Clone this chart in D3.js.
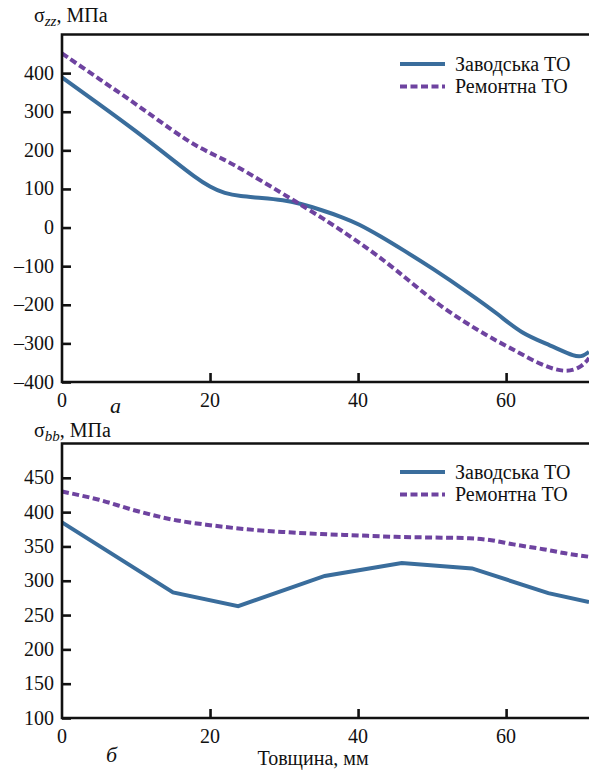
<!DOCTYPE html>
<meta charset="utf-8">
<style>
body {
  margin: 0;
  background: white;
}
svg text {
  font-family: "Liberation Serif", "Times New Roman", Times, "DejaVu Serif", serif;
  fill: #111;
}
</style>
<body>
<script src="https://cdn.jsdelivr.net/npm/d3@7"></script>
<script>

var width = 589,
    height = 772;

var seriesNames = ["Заводська ТО", "Ремонтна ТО"];
var colors = ["#3a6d9c", "#6e43a0"];

// top panel, sigma_zz (mm, MPa)
var zzFactory = [
  [0, 389], [5, 320], [10, 250], [15, 175], [18, 130], [20, 105], [22, 88],
  [24, 81], [27, 77], [30, 71], [32, 63], [35, 46], [38, 26], [40, 10],
  [43, -22], [46, -57], [50, -105], [55, -170], [59, -225], [62, -274],
  [66, -305], [69.4, -336], [70.4, -333], [71.2, -322]
];
var zzRepair = [
  [0, 451], [5, 385], [10, 320], [15, 250], [18.6, 205], [22, 176],
  [25, 143], [30, 86], [32, 62], [35, 27], [40, -36], [45, -106],
  [51, -205], [57.8, -285], [61.4, -320], [64.6, -355], [68.2, -378],
  [70.4, -358], [71.2, -338]
];

// bottom panel, sigma_bb (mm, MPa)
var bbFactory = [
  [0, 385], [15, 283], [23.8, 263], [35.5, 307], [45.9, 326],
  [55.4, 318], [65.7, 282], [71.2, 269]
];
var bbRepair = [
  [0, 430], [5, 418], [10, 402], [15, 389], [20, 381], [25, 375],
  [30, 371], [35, 368], [40, 366], [45, 364], [50, 363], [55, 362],
  [58, 359], [61, 353], [65, 346], [68, 340], [71.2, 335]
];

var xTicks = [0, 20, 40, 60];
var zzTicks = [-400, -300, -200, -100, 0, 100, 200, 300, 400];
var bbTicks = [100, 150, 200, 250, 300, 350, 400, 450];

var svg = d3.select("body").append("svg")
    .attr("width", width)
    .attr("height", height)
    .attr("font-family", "Liberation Serif, Times New Roman, serif");

var x = d3.scaleLinear().domain([0, 71.2]).range([62, 589]);

function panel(opts) {
  var y = d3.scaleLinear().domain(opts.domain).range(opts.range);
  var g = svg.append("g");

  var line = d3.line()
    .x(function(d) { return x(d[0]); })
    .y(function(d) { return y(d[1]); });

  // curves
  opts.series.forEach(function(s, i) {
    g.append("path")
      .datum(s)
      .attr("fill", "none")
      .attr("stroke", colors[i])
      .attr("stroke-width", 4)
      .attr("stroke-dasharray", i === 1 ? "7,3.5" : null)
      .attr("d", line.curve(opts.curves[i])(s));
  });

  // frame: left, bottom, top
  var x0 = x.range()[0], x1 = 600;
  var yb = y.range()[0], yt = y.range()[1];
  g.append("path")
    .attr("d", "M" + x1 + "," + yt + "H" + x0 + "V" + yb + "H" + x1)
    .attr("fill", "none")
    .attr("stroke", "#111")
    .attr("stroke-width", 2.6);

  // y ticks, inward
  var yAxis = d3.axisRight(y).tickValues(opts.yTicks).tickSize(9).tickFormat("");
  g.append("g")
    .attr("transform", "translate(" + x0 + ",0)")
    .call(yAxis)
    .call(function(a) {
      a.select(".domain").remove();
      a.selectAll("line").attr("stroke", "#111").attr("stroke-width", 2.6);
    });
  g.selectAll(".ylab")
    .data(opts.yTicks)
    .enter().append("text")
    .attr("x", x0 - 8)
    .attr("y", function(d) { return y(d) + 6.5; })
    .attr("text-anchor", "end")
    .style("font-size", "20px")
    .text(function(d) { return d < 0 ? "\u2013" + Math.abs(d) : d; });

  // x ticks, inward
  var xAxis = d3.axisTop(x).tickValues(xTicks.slice(1)).tickSize(9).tickFormat("");
  g.append("g")
    .attr("transform", "translate(0," + yb + ")")
    .call(xAxis)
    .call(function(a) {
      a.select(".domain").remove();
      a.selectAll("line").attr("stroke", "#111").attr("stroke-width", 2.6);
    });
  g.selectAll(".xlab")
    .data(xTicks)
    .enter().append("text")
    .attr("x", function(d) { return x(d); })
    .attr("y", yb + 25)
    .attr("text-anchor", "middle")
    .style("font-size", "20px")
    .text(function(d) { return d; });

  // y title
  var t = g.append("text")
    .attr("x", 34)
    .attr("y", opts.titleY)
    .style("font-size", "20px");
  t.append("tspan").text("\u03c3");
  t.append("tspan")
    .attr("dy", 4)
    .style("font-style", "italic")
    .style("font-size", "15px")
    .text(opts.sub);
  t.append("tspan")
    .attr("dy", -4)
    .text(", \u041c\u041f\u0430");

  // panel letter
  g.append("text")
    .attr("x", opts.letterX)
    .attr("y", yb + opts.letterDy)
    .style("font-size", "22px")
    .style("font-style", "italic")
    .text(opts.letter);

  // legend
  seriesNames.forEach(function(name, i) {
    var ly = opts.legendY + i * 22.5;
    g.append("line")
      .attr("x1", 400).attr("x2", 445)
      .attr("y1", ly).attr("y2", ly)
      .attr("stroke", colors[i])
      .attr("stroke-width", 4)
      .attr("stroke-dasharray", i === 1 ? "7,3.5" : null);
    g.append("text")
      .attr("x", 455)
      .attr("y", ly + 6.5)
      .style("font-size", "20px")
      .text(name);
  });
}

panel({
  domain: [-400, 500], range: [382, 34.5],
  series: [zzFactory, zzRepair],
  curves: [d3.curveBasis, d3.curveBasis],
  yTicks: zzTicks, sub: "zz", titleY: 22,
  letter: "а", letterX: 110, letterDy: 31,
  legendY: 64
});

panel({
  domain: [100, 500], range: [718, 443.5],
  series: [bbFactory, bbRepair],
  curves: [d3.curveLinear, d3.curveMonotoneX],
  yTicks: bbTicks, sub: "bb", titleY: 437,
  letter: "б", letterX: 106, letterDy: 44,
  legendY: 472
});

svg.append("text")
  .attr("x", 313)
  .attr("y", 765)
  .attr("text-anchor", "middle")
  .style("font-size", "20px")
  .text("Товщина, мм");

</script>
